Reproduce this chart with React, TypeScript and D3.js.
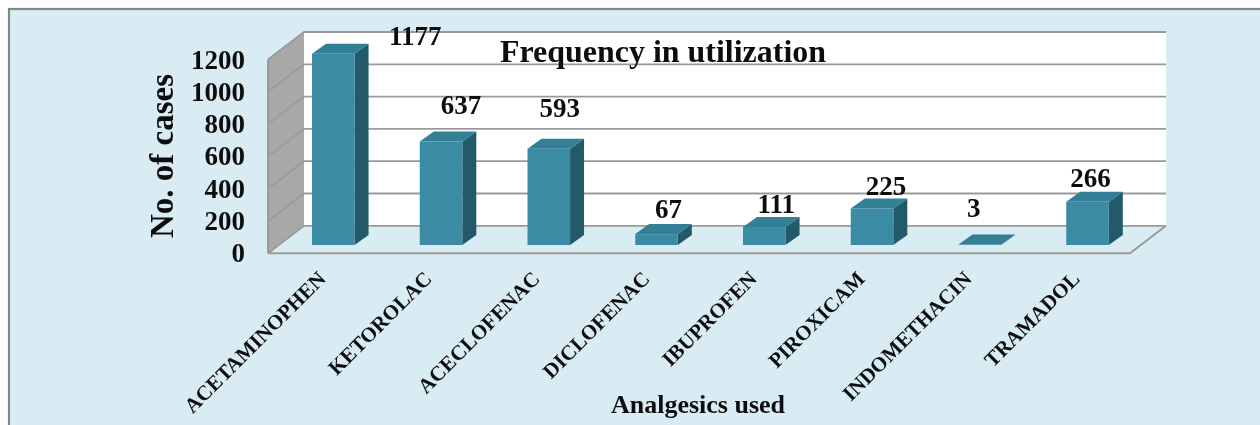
import React from "react";
import * as d3 from "d3";

const categories = ["ACETAMINOPHEN","KETOROLAC","ACECLOFENAC","DICLOFENAC","IBUPROFEN","PIROXICAM","INDOMETHACIN","TRAMADOL"];
const values = [1177,637,593,67,111,225,3,266];
const ticks = [0,200,400,600,800,1000,1200];
const labelNudgeX = [82,20,11,12,12,14,-6,3];
const labelY = [36,105,108,209,204,186,208,178];
const catEnd = [[327,280],[433,280],[541,280],[651,280],[758,280],[866,280],[973,280],[1081,280]];

const FONT = "'Liberation Serif','Times New Roman',serif";
const dx = 36, dy = -27.5;        // wall depth
const bdx = 14, bdy = -10;        // bar depth

export default function App() {
  const wallY = d3.scaleLinear().domain([0,1200]).range([253.3,59.5]);
  const barY = d3.scaleLinear().domain([0,1200]).range([245,50]);
  const x = d3.scaleBand<string>().domain(categories).range([279.4,1141.4]).paddingInner(0.605).paddingOuter(0.3025);
  const wl = wallY.range()[0], left = 268, right = 1130;
  const line = d3.line();
  const poly = (p: [number,number][]) => line(p)! + "Z";
  return (
    <svg width={1260} height={425} style={{position:"fixed",left:0,top:0}}>
      <defs><filter id="soft"><feGaussianBlur stdDeviation="0.45"/></filter></defs>
      <rect width={1260} height={425} fill="#fff"/>
      <g filter="url(#soft)">
        <rect x={9} y={9} width={1260} height={430} fill="#d9ecf3" stroke="#858585" strokeWidth={2.2}/>
        <rect x={left+dx} y={wallY(1200)+dy} width={right-left} height={wallY(0)-wallY(1200)} fill="#fff"/>
        <path d={poly([[left,wallY(1200)],[left+dx,wallY(1200)+dy],[left+dx,wl+dy],[left,wl]])} fill="#a8a8a8"/>
        <path d={line([[left,wl],[left,wallY(1200)]])!} stroke="#9a9a9a" strokeWidth={2} fill="none"/>
        {ticks.map(t=>(
          <path key={t} fill="none" stroke="#9a9a9a" strokeWidth={1.8}
            d={line([[left,wallY(t)],[left+dx,wallY(t)+dy],[right+dx,wallY(t)+dy]])!}/>
        ))}
        <path d={line([[left,wl],[right,wl],[right+dx,wl+dy]])!} stroke="#9a9a9a" strokeWidth={2} fill="none"/>
        {categories.map((c,i)=>{
          const x0 = x(c)!, x1 = x0 + x.bandwidth(), yt = barY(values[i]), yb = barY(0);
          return (
            <g key={c}>
              <path d={poly([[x1,yt],[x1+bdx,yt+bdy],[x1+bdx,yb+bdy],[x1,yb]])} fill="#245a6b"/>
              <path d={poly([[x0,yt],[x0+bdx,yt+bdy],[x1+bdx,yt+bdy],[x1,yt]])} fill="#337f96"/>
              <rect x={x0} y={yt} width={x1-x0} height={yb-yt} fill="#3b8ba5"/>
            </g>
          );
        })}
        {ticks.map(t=>(
          <text key={t} x={245} y={wallY(t)+9} textAnchor="end" fontFamily={FONT} fontWeight="bold" fontSize={27} fill="#111">{t}</text>
        ))}
        {categories.map((c,i)=>(
          <text key={c} x={x(c)!+x.bandwidth()/2+labelNudgeX[i]} y={labelY[i]} textAnchor="middle" dominantBaseline="central"
            fontFamily={FONT} fontWeight="bold" fontSize={27} fill="#111">{values[i]}</text>
        ))}
        {categories.map((c,i)=>(
          <text key={c} transform={`translate(${catEnd[i][0]},${catEnd[i][1]}) rotate(-45)`} textAnchor="end"
            fontFamily={FONT} fontWeight="bold" fontSize={21} fill="#111">{c}</text>
        ))}
        <text x={500} y={62} textLength={326} lengthAdjust="spacingAndGlyphs" fontFamily={FONT} fontWeight="bold" fontSize={31} fill="#111">Frequency in utilization</text>
        <text x={698} y={413} textAnchor="middle" fontFamily={FONT} fontWeight="bold" fontSize={26} fill="#111">Analgesics used</text>
        <text transform="translate(173,156) rotate(-90)" textAnchor="middle" fontFamily={FONT} fontWeight="bold" fontSize={33} fill="#111">No. of cases</text>
      </g>
    </svg>
  );
}
